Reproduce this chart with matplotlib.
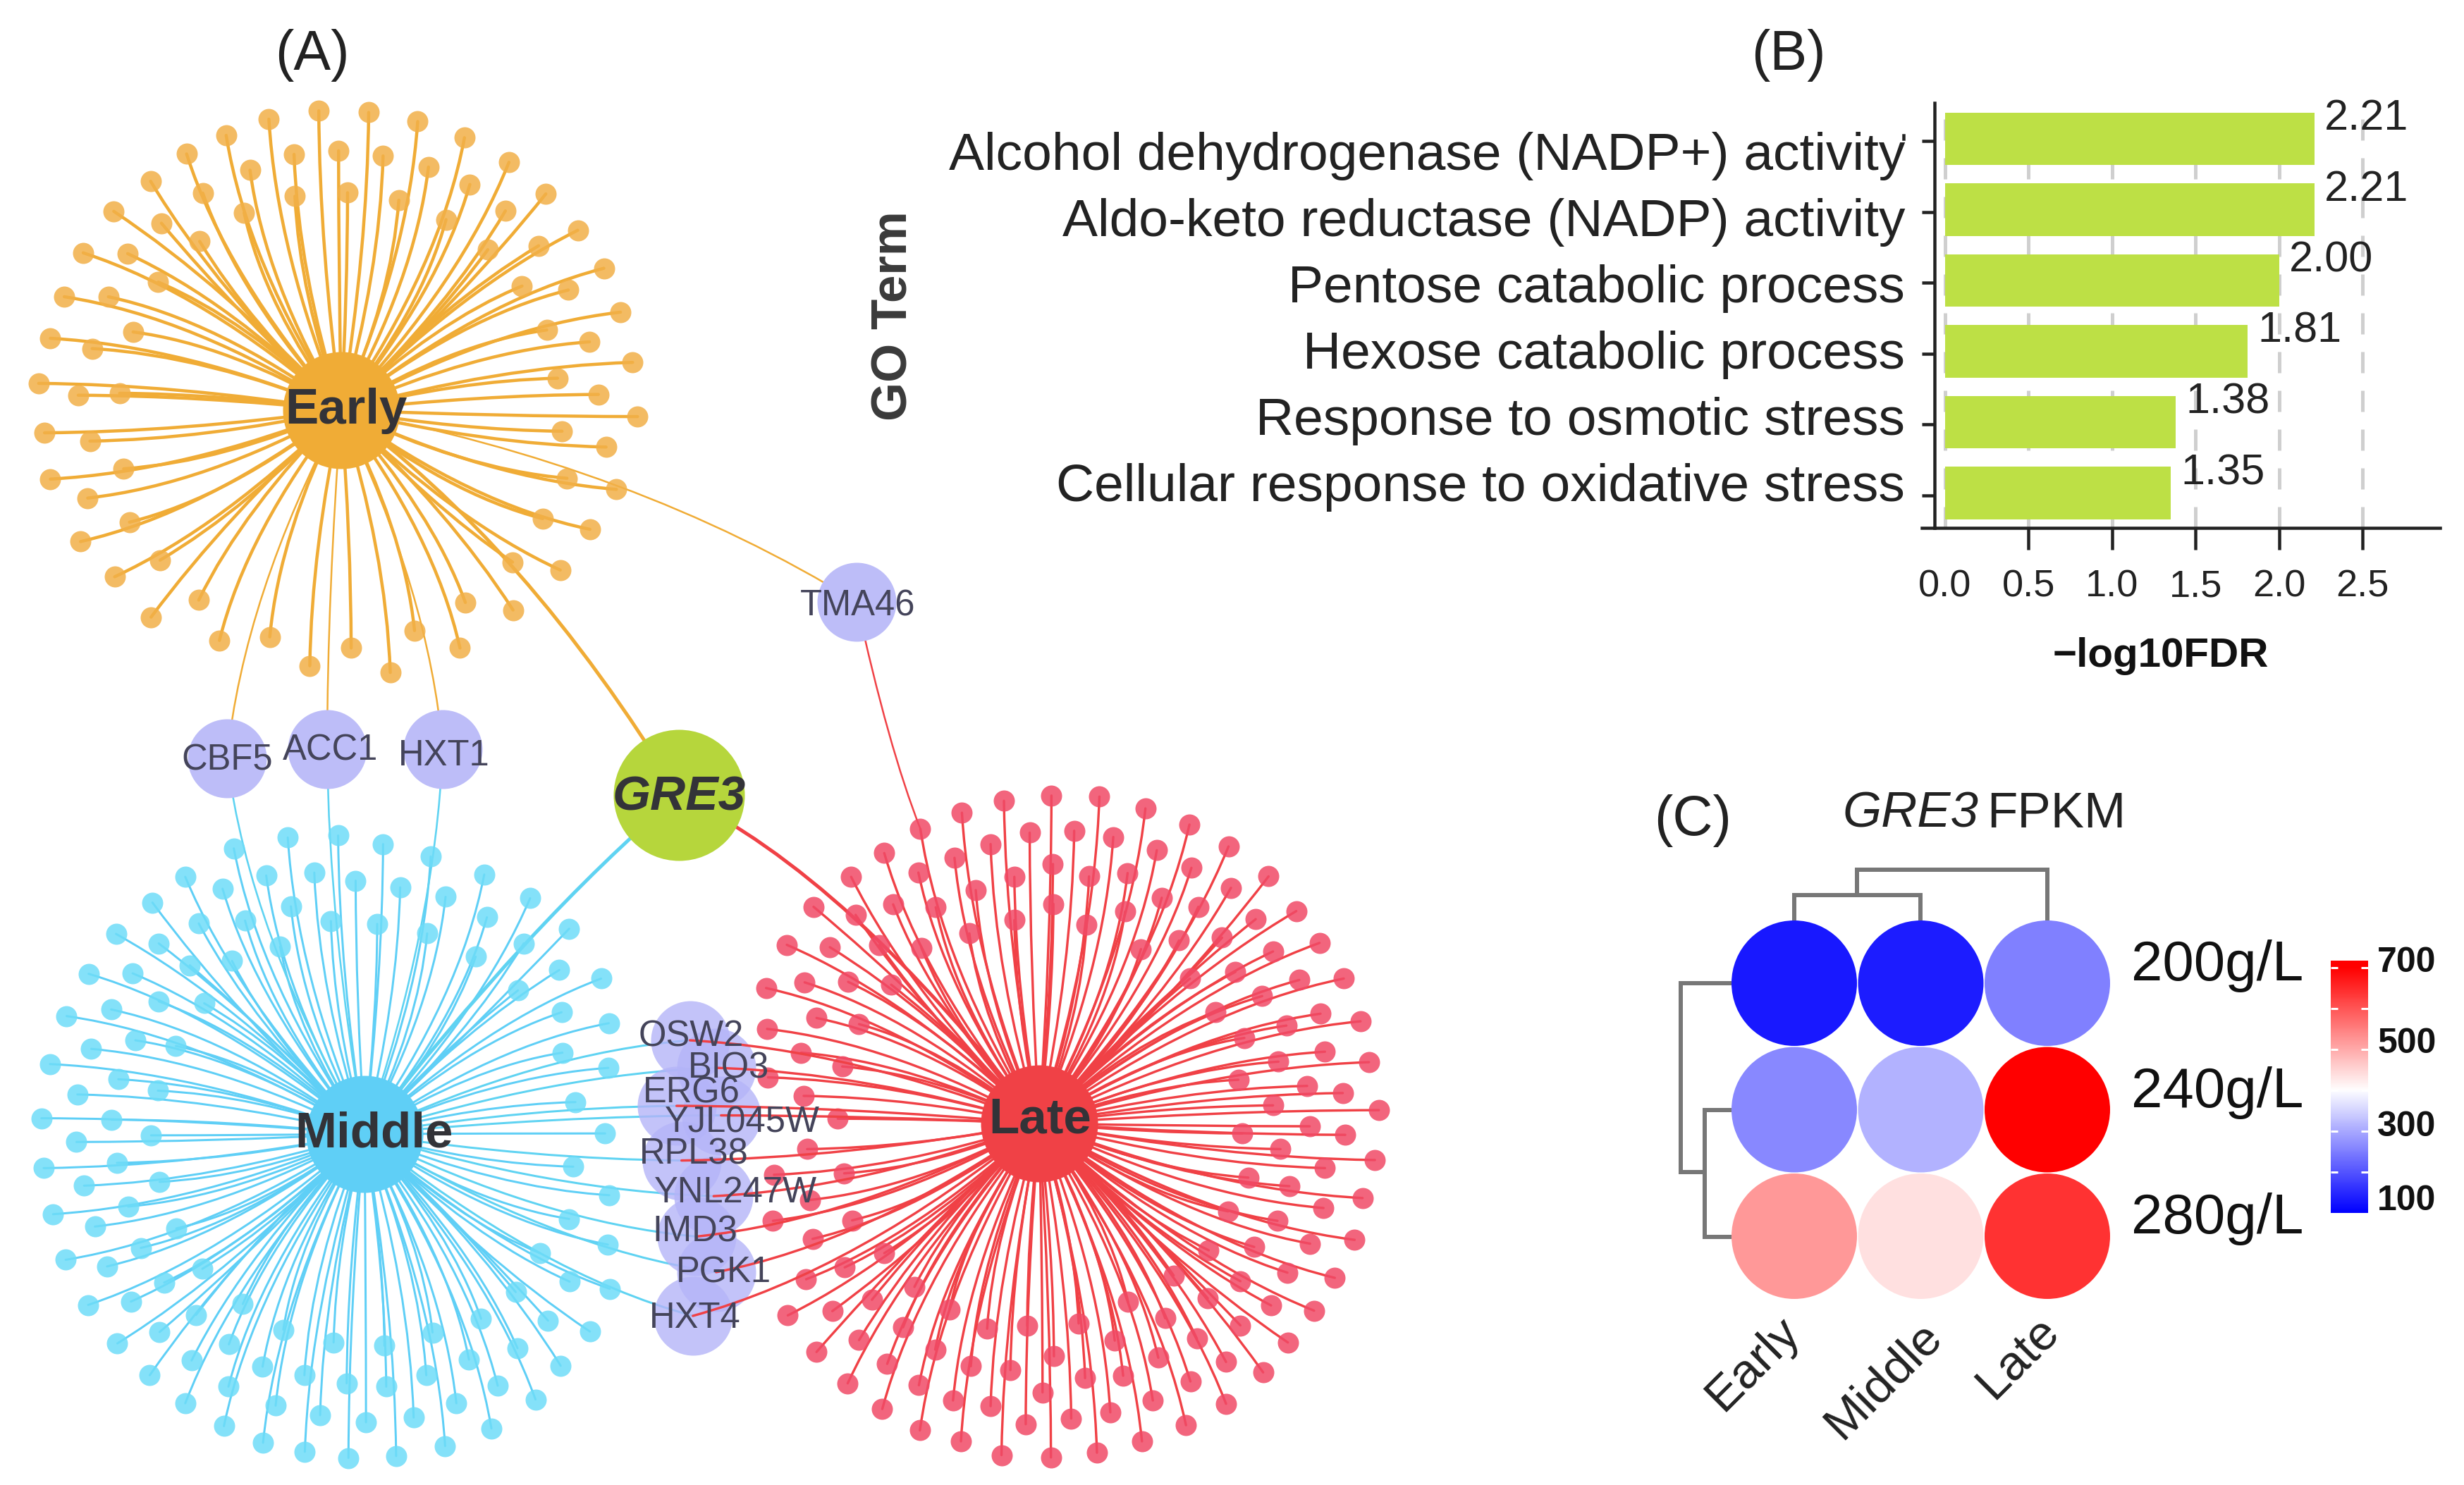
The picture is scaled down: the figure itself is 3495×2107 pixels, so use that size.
import matplotlib
matplotlib.use('Agg')
import matplotlib.pyplot as plt
from matplotlib.colors import LinearSegmentedColormap, Normalize
from matplotlib.patches import PathPatch
from matplotlib.path import Path
import numpy as np

plt.rcParams['font.family'] = ['Liberation Sans', 'DejaVu Sans']

W, H = 3495, 2107
PT = 0.72  # one image pixel in points at dpi 100

# network, node positions (crop window: x0, y0, w, h)
early_win = (0, 100, 1000, 880)
middle_win = (0, 1050, 1000, 1057)
late_win = (900, 1050, 1100, 1057)

early_leaves = [(709,102),(820,106),(929,129),(1033,170),(1132,232),(1214,312),(1285,404),(1343,500),(1380,611),
    (1407,738),(1418,875),(1348,952),(1371,1059),(1312,1160),(1246,1263),(1141,1364),(1023,1460),(868,1522),
    (689,1505),(488,1441),(336,1382),(255,1280),(179,1191),(112,1033),(99,916),(86,791),(112,677),(143,572),
    (185,461),(253,356),(335,280),(415,211),(503,164),(598,123),
    (753,203),(852,216),(953,244),(1045,288),(1124,355),(1198,443),(1264,555),(1216,656),(1311,686),(1240,778),
    (1331,819),(1250,912),(1261,1031),(1207,1133),(1140,1243),(1035,1345),(922,1416),(781,1460),(600,1432),
    (442,1339),(356,1238),(288,1142),(195,1081),(275,1007),(200,937),(174,821),(266,816),(205,703),(296,661),
    (241,572),(284,463),(352,535),(359,386),(444,432),(451,310),(543,360),(556,252),(654,212),(656,318),
    (773,309),(887,328),(992,377),(1085,453),(1161,545)]

middle_leaves = [(520,228),(640,205),(752,201),(852,219),(958,245),(1077,283),(1179,333),(1266,397),(1337,502),
    (1354,596),(1353,690),(1346,828),(1355,958),(1352,1062),(1356,1155),(1312,1245),(1247,1317),(1191,1388),
    (1093,1449),(990,1486),(881,1507),(775,1511),(678,1498),(585,1479),(498,1444),(412,1396),(333,1337),
    (261,1270),(196,1189),(146,1094),(118,998),(97,901),(92,796),(111,682),(148,581),(197,492),(258,408),
    (339,342),(412,288),(495,313),(592,285),(699,279),(791,296),(890,310),(991,330),(1083,373),(1165,428),
    (1244,484),(1249,573),(1251,658),(1280,762),(1275,898),(1266,1008),(1201,1080),(1267,1140),(1147,1162),
    (1219,1222),(1070,1218),(1151,1280),(1043,1304),(1107,1359),(1015,1396),(962,1247),(948,1337),(920,1426),
    (855,1275),(859,1361),(814,1436),(771,1354),(742,1268),(712,1421),(677,1337),(630,1241),(613,1401),
    (584,1319),(509,1272),(508,1361),(426,1306),(436,1210),(355,1246),(540,1187),(291,1182),(365,1142),
    (450,1113),(238,1108),(313,1069),(392,1028),(211,1024),(285,982),(355,930),(187,938),(260,890),(336,832),
    (170,846),(248,799),(172,746),(263,714),(351,738),(203,650),(301,632),(391,644),(247,567),(353,550),
    (295,491),(454,554),(353,428),(422,474),(442,386),(516,465),(545,380),(623,435),(647,350),(736,381),
    (839,387),(950,407),(1058,456),(1152,527)]

late_leaves = [(843,117),(940,119),(1033,144),(1122,178),(1201,224),(1282,287),(1338,360),(1385,427),(1434,502),
    (1468,592),(1485,678),(1432,743),(1505,779),(1437,831),(1497,884),(1472,964),(1456,1052),(1416,1132),
    (1374,1201),(1321,1268),(1271,1331),(1196,1397),(1115,1442),(1026,1476),(935,1500),(842,1510),(742,1505),
    (660,1476),(577,1453),(501,1408),(431,1354),(368,1288),(310,1211),(347,1135),(360,1050),(280,1012),
    (355,968),(282,915),(270,710),(268,608),(266,522),(308,431),(362,351),(438,288),(505,238),(578,187),
    (662,153),(747,128),
    (799,195),(889,191),(968,204),(1056,232),(1126,269),(1206,311),(1256,377),(1291,445),(1344,505),(1387,576),
    (1318,601),(1396,656),(1302,677),(1360,728),(1291,769),(1365,813),(1229,828),(1306,861),(1396,901),
    (1241,921),(1324,939),(1393,985),(1200,992),(1300,1012),(1366,1060),(1253,1067),(1161,1074),(1320,1121),
    (1225,1139),(1090,1127),(1287,1190),(1159,1175),(1225,1232),(1073,1217),(998,1183),(1137,1260),(1196,1309),
    (1124,1350),(1059,1300),(1048,1390),(971,1264),(988,1338),(962,1415),(898,1228),(911,1343),(883,1428),
    (848,1297),(794,1233),(825,1373),(791,1440),(760,1326),(713,1239),(720,1402),(680,1318),(644,1390),
    (637,1198),(608,1283),(575,1358),(543,1236),(566,1151),(511,1313),(454,1263),(480,1178),(400,1202),
    (425,1110),(505,1080),(440,1011),(424,912),(411,797),(349,861),(342,749),(420,687),(337,658),(454,598),
    (368,585),(432,509),(344,510),(519,515),(395,436),(495,431),(580,437),(447,368),(523,346),(609,352),
    (574,279),(647,248),(690,316),(720,219),(677,407),(768,288),(768,379),(846,261),(847,345),(919,287),
    (914,388),(997,280),(992,361),(1066,332),(1140,351),(1024,440),(1101,422),(1188,416),(1215,488),(1123,502),
    (1269,539),(1174,573),(1233,627),(1221,715)]

hubs = {'Early': (484, 582), 'Middle': (517, 1609), 'Late': (1474, 1594)}
hub_colors = {'Early': '#F0AC36', 'Middle': '#5FCFF6', 'Late': '#F04146'}
leaf_colors = {'Early': '#F2B048', 'Middle': '#6EDCF8', 'Late': '#F04A66'}
gre3_pos = (963, 1128)

shared_names = ['CBF5', 'ACC1', 'HXT1', 'TMA46']
shared_pos = [(322, 1076), (464, 1063), (628, 1063), (1215, 854)]
shared_text = [(322, 1079), (469, 1065), (630, 1072), (1217, 860)]

stack_names = ['OSW2', 'BIO3', 'ERG6', 'YJL045W', 'RPL38', 'YNL247W', 'IMD3', 'PGK1', 'HXT4']
stack_nodes = [(112,632),(165,690),(85,770),(175,790),(95,885),(160,960),(125,1045),(165,1120),(118,1212)]
stack_text = [(115,625),(190,692),(115,743),(218,806),(120,873),(205,953),(122,1035),(180,1122),(122,1217)]

# panel B
go_terms = ['Alcohol dehydrogenase (NADP+) activity', 'Aldo-keto reductase (NADP) activity',
            'Pentose catabolic process', 'Hexose catabolic process',
            'Response to osmotic stress', 'Cellular response to oxidative stress']
log_fdr = [2.21, 2.21, 2.00, 1.81, 1.38, 1.35]
fdr_ticks = [0.0, 0.5, 1.0, 1.5, 2.0, 2.5]

# panel C
stages = ['Early', 'Middle', 'Late']
sugar = ['200g/L', '240g/L', '280g/L']
fpkm = np.array([[130, 135, 250],
                 [260, 310, 700],
                 [520, 436, 640]])


def from_crop(pts, win):
    x0, y0, w, h = win
    return [(x0 + a * w / 1568, y0 + b * h / 1568) for a, b in pts]


def dot(ax, pts, r, color, alpha=1.0, z=3):
    xs = [p[0] for p in pts]
    ys = [p[1] for p in pts]
    ax.scatter(xs, ys, s=(2 * r * PT) ** 2, c=color, alpha=alpha, linewidths=0, zorder=z)


def edge(ax, a, b, color, lw, z=2, ctrl=None):
    # edges leave the hub bundled and meet the leaf along the nearest axis
    ax_, ay = a
    bx, by = b
    dx, dy = bx - ax_, by - ay
    if ctrl is None:
        mx, my = ax_ + dx / 2, ay + dy / 2
        if abs(dx) > abs(dy):
            cx, cy = ax_ + 0.55 * dx, by
        else:
            cx, cy = bx, ay + 0.55 * dy
        w = (abs(abs(dx) - abs(dy)) / (abs(dx) + abs(dy))) ** 0.5
        ctrl = (mx + w * (cx - mx), my + w * (cy - my))
    p = Path([a, ctrl, b], [Path.MOVETO, Path.CURVE3, Path.CURVE3])
    ax.add_patch(PathPatch(p, fc='none', ec=color, lw=lw * PT, zorder=z, capstyle='round'))


fig = plt.figure(figsize=(W / 100, H / 100), dpi=100)
net = fig.add_axes([0, 0, 1, 1])
net.set_xlim(0, W)
net.set_ylim(H, 0)
net.axis('off')

leaves = {'Early': from_crop(early_leaves, early_win),
          'Middle': from_crop(middle_leaves, middle_win),
          'Late': from_crop(late_leaves, late_win)}
edge_w = {'Early': 4.5, 'Middle': 3.0, 'Late': 3.4}
for name, pts in leaves.items():
    for p in pts:
        edge(net, hubs[name], p, hub_colors[name], edge_w[name])
    dot(net, pts, 15, leaf_colors[name], alpha=0.85, z=4)

stack = from_crop(stack_nodes, late_win)
for p in stack:
    edge(net, hubs['Middle'], p, '#5FD3F2', 3.0, z=2)
    edge(net, hubs['Late'], p, hub_colors['Late'], 3.4, z=6)

for p in shared_pos[:3]:
    edge(net, hubs['Early'], p, hub_colors['Early'], 2.5)
    edge(net, hubs['Middle'], p, '#5FD3F2', 2.6)
edge(net, hubs['Early'], shared_pos[3], hub_colors['Early'], 2.5, ctrl=(900, 660))
edge(net, shared_pos[3], leaves['Late'][45], hub_colors['Late'], 2.5, ctrl=(1260, 1060))
edge(net, hubs['Early'], gre3_pos, hub_colors['Early'], 5, ctrl=(745, 770))
edge(net, hubs['Middle'], gre3_pos, '#5FD3F2', 5, ctrl=(750, 1310))
edge(net, hubs['Late'], gre3_pos, hub_colors['Late'], 5, ctrl=(1206, 1245))

dot(net, shared_pos, 56, '#BDBDF8', z=5)
dot(net, stack, 56, '#B4B4F8', alpha=0.8, z=5)
dot(net, [gre3_pos], 93, '#B6D63C', z=7)
for name, p in hubs.items():
    dot(net, [p], 83, hub_colors[name], z=7)

hub_text = {'Early': (491, 583), 'Middle': (530, 1610), 'Late': (1475, 1590)}
for name, p in hub_text.items():
    net.text(p[0], p[1], name, fontsize=51, fontweight='bold', color='#333338',
             ha='center', va='center', zorder=8)
net.text(963, 1132, 'GRE3', fontsize=50, fontweight='bold', fontstyle='italic', color='#333338',
         ha='center', va='center', zorder=8)
for name, p in zip(shared_names, shared_text):
    net.text(p[0], p[1], name, fontsize=36.5, color='#44445A', ha='center', va='center', zorder=8)
for name, p in zip(stack_names, from_crop(stack_text, late_win)):
    net.text(p[0], p[1], name, fontsize=36.5, color='#44445A', ha='center', va='center', zorder=8)

net.text(443, 78, '(A)', fontsize=57, color='#222222', ha='center', va='center')
net.text(2537, 78, '(B)', fontsize=57, color='#222222', ha='center', va='center')
net.text(2401, 1165, '(C)', fontsize=57, color='#222222', ha='center', va='center')

# panel B
left, right, top, bottom = 2744.4, 3460.8, 146, 749
bx = fig.add_axes([left / W, 1 - bottom / H, (right - left) / W, (bottom - top) / H])
bx.patch.set_alpha(0)
y_pos = np.arange(len(go_terms))
bx.grid(axis='x', color='#CFCFCF', lw=5 * PT, linestyle=(0, (6, 5)), zorder=0)
bx.barh(y_pos, log_fdr, height=0.742, color='#BDE045', zorder=2)
bx.set_xlim(-0.0616, 2.962)
bx.set_ylim(5.49, -0.507)
for s in ['top', 'right']:
    bx.spines[s].set_visible(False)
for s in ['left', 'bottom']:
    bx.spines[s].set_linewidth(4.5 * PT)
    bx.spines[s].set_color('#222222')
    bx.spines[s].set_zorder(5)
bx.set_yticks(y_pos + 0.03)
bx.set_yticklabels([])
bx.tick_params(axis='y', length=18 * PT, width=4.5 * PT, color='#222222')
bx.set_xticks(fdr_ticks)
bx.set_xticklabels(['%.1f' % t for t in fdr_ticks], fontsize=39, color='#222222')
bx.tick_params(axis='x', length=31 * PT, width=4.5 * PT, color='#222222', pad=20)
bx.xaxis.get_major_ticks()[0].tick1line.set_visible(False)
# axis stubs past the corner
bx.plot([-0.0616, -0.0616], [0, -31 / (bottom - top)], transform=bx.get_yaxis_transform(),
        color='#222222', lw=4.5 * PT, clip_on=False)
bx.plot([-18 / (right - left), 0], [0, 0], transform=bx.transAxes, color='#222222', lw=4.5 * PT, clip_on=False)
for i, (term, v) in enumerate(zip(go_terms, log_fdr)):
    # the term labels sit a little tighter than the bars
    net.text(2702, 221 + 94.2 * i, term, fontsize=54, color='#222222', ha='right', va='center')
    bx.text(v + 0.06, i - 0.28, '%.2f' % v, fontsize=44, color='#222222',
            ha='left', va='center', zorder=6)
net.text(3065, 931, '\u2212log10FDR', fontweight='bold', fontsize=42, color='#111111',
         ha='center', va='center')
net.text(1268, 448, 'GO Term', rotation=90, fontweight='bold', fontsize=51, color='#3A3A3A',
         ha='center', va='center')

# panel C
cmap = LinearSegmentedColormap.from_list('bwr_fpkm', ['#0000FF', '#FFFFFF', '#FF0000'])
norm = Normalize(100, 700)
step = 179.5
cx0, cy0 = 2545, 1395
hx = fig.add_axes([(cx0 - step / 2) / W, 1 - (cy0 + 2.5 * step) / H, 3 * step / W, 3 * step / H])
hx.patch.set_alpha(0)
rows, cols = np.meshgrid(np.arange(3), np.arange(3), indexing='ij')
hx.scatter(cols.ravel(), rows.ravel(), c=fpkm.ravel(), cmap=cmap, norm=norm, s=(178 * PT) ** 2,
           linewidths=0, clip_on=False)
hx.set_xlim(-0.5, 2.5)
hx.set_ylim(2.5, -0.5)
hx.axis('off')
for i, lab in enumerate(sugar):
    hx.text(2.665, i - 0.135, lab, fontsize=57.5, color='#111111', ha='left', va='center')
col_xy = [(2487, 1935), (2672, 1959), (2862, 1926)]
for lab, p in zip(stages, col_xy):
    net.text(p[0], p[1], lab, fontsize=50, rotation=45, color='#222222', ha='center', va='center')
net.text(2806, 1156, 'GRE3', fontsize=51, fontstyle='italic', color='#222222', ha='right', va='center')
net.text(2818, 1156, 'FPKM', fontsize=51, color='#222222', ha='left', va='center')

# dendrograms, crop coordinates of panel C
tree_win = (2300, 1080, 1195, 1027)
col_tree = [[(322,345),(322,290),(557,290),(557,345)],
            [(438,290),(438,235),(793,235),(793,345)]]
row_tree = [[(205,755),(155,755),(155,1030),(205,1030)],
            [(205,481),(110,481),(110,890),(155,890)]]
for seg in col_tree + row_tree:
    pts = from_crop(seg, tree_win)
    net.plot([p[0] for p in pts], [p[1] for p in pts], color='#777777', lw=6 * PT,
             solid_joinstyle='miter', solid_capstyle='butt')

# colour bar
cb_top, cb_bot = 1363, 1721
cb_vals = [100, 717]
cb = fig.add_axes([3306 / W, 1 - cb_bot / H, 53 / W, (cb_bot - cb_top) / H])
grad = np.linspace(cb_vals[0], cb_vals[1], 256).reshape(-1, 1)
cb.imshow(grad, cmap=cmap, norm=norm, aspect='auto', origin='lower', extent=[0, 1, cb_vals[0], cb_vals[1]])
for s in cb.spines.values():
    s.set_visible(False)
cb.set_xticks([])
cb.set_yticks([200, 300, 400, 500, 600, 700])
cb.set_yticklabels([])
cb.tick_params(axis='y', direction='in', left=True, right=True, length=10 * PT, width=3 * PT, color='white')
for val, y in zip([700, 500, 300, 100], [1366, 1481, 1599, 1704]):
    net.text(3372, y, str(val), fontsize=36, fontweight='bold', color='#111111', ha='left', va='center')

fig.savefig('out.png', dpi=100, facecolor='white')
